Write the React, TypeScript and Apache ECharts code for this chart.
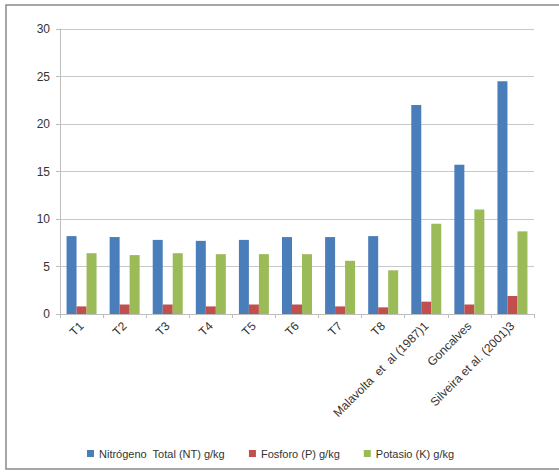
import React, { useEffect, useRef } from "react";
import * as echarts from "echarts";

const categories = ["T1", "T2", "T3", "T4", "T5", "T6", "T7", "T8", "Malavolta  et  al (1987)1", "Goncalves", "Silveira et al. (2001)3"];
const nitrogeno = [8.2, 8.1, 7.8, 7.7, 7.8, 8.1, 8.1, 8.2, 22.0, 15.7, 24.5];
const fosforo = [0.8, 1.0, 1.0, 0.8, 1.0, 1.0, 0.8, 0.7, 1.3, 1.0, 1.9];
const potasio = [6.4, 6.2, 6.4, 6.3, 6.3, 6.3, 5.6, 4.6, 9.5, 11.0, 8.7];
const seriesNames = ["Nitrógeno  Total (NT) g/kg", "Fosforo (P) g/kg", "Potasio (K) g/kg"];
const yTicks = { min: 0, max: 30, interval: 5 };

const FONT = "'Liberation Sans Narrow', 'Liberation Sans', Arial, sans-serif";

export default function App() {
  const ref = useRef<HTMLDivElement>(null);
  useEffect(() => {
    if (!ref.current) return;
    const chart = echarts.init(ref.current, null, { renderer: "svg" });
    const mk = (name: string, data: number[], color: string) => ({
      name,
      type: "bar",
      data,
      barWidth: 10,
      barGap: "0%",
      itemStyle: { color },
    });
    chart.setOption({
      animation: false,
      backgroundColor: "#ffffff",
      textStyle: { fontFamily: FONT },
      graphic: [
        {
          type: "rect",
          shape: { x: 6, y: 5, width: 600, height: 464 },
          style: { fill: "none", stroke: "#8a8a8a", lineWidth: 1.5 },
          silent: true,
        },
      ],
      grid: { left: 60, right: 25, top: 29, bottom: 158 },
      legend: {
        bottom: 8,
        left: 82,
        icon: "rect",
        itemWidth: 7,
        itemHeight: 7,
        itemGap: 24,
        textStyle: { fontSize: 11, color: "#333", fontFamily: FONT },
        data: seriesNames,
      },
      xAxis: {
        type: "category",
        data: categories,
        axisLine: { lineStyle: { color: "#bdbdbd" } },
        axisTick: { show: true, lineStyle: { color: "#bdbdbd" }, length: 4 },
        axisLabel: { rotate: 45, fontSize: 12, color: "#333", margin: 10, interval: 0, fontFamily: FONT },
      },
      yAxis: {
        type: "value",
        min: yTicks.min,
        max: yTicks.max,
        interval: yTicks.interval,
        axisLine: { show: true, lineStyle: { color: "#bdbdbd" } },
        axisTick: { show: true, lineStyle: { color: "#bdbdbd" }, length: 4 },
        axisLabel: { fontSize: 12, color: "#333", margin: 10, fontFamily: FONT },
        splitLine: { lineStyle: { color: "#c8c8c8" } },
      },
      series: [
        mk(seriesNames[0], nitrogeno, "#4a7ebb"),
        mk(seriesNames[1], fosforo, "#c0504d"),
        mk(seriesNames[2], potasio, "#9bbb59"),
      ],
    });
    return () => chart.dispose();
  }, []);
  return (
    <div
      ref={ref}
      style={{ position: "fixed", left: 0, top: 0, width: 559, height: 472 }}
    />
  );
}
